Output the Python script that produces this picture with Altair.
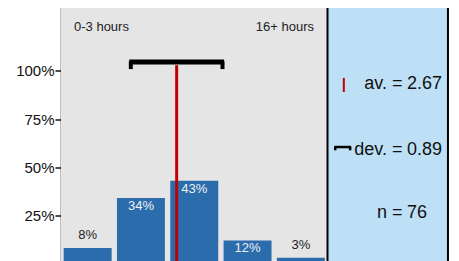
import altair as alt
import pandas as pd

# ---- data ----
categories = [1, 2, 3, 4, 5]
shares = [0.08, 0.34, 0.43, 0.12, 0.03]
labels = ["8%", "34%", "43%", "12%", "3%"]
mean_val = 2.67
sd_val = 0.89
n_val = 76
y_ticks = [0.25, 0.5, 0.75, 1.0]
end_labels = ["0-3 hours", "16+ hours"]

X_DOM = [0.5, 7.817]
Y_DOM = [0.0, 1.335]
RIGHT_EDGE = 7.76
BAR_COLOR = "#2b6cad"
GRAY = "#e5e5e5"
BLUE = "#bde0f6"
RED = "#c00000"

bars_df = pd.DataFrame({"cat": categories, "share": shares, "label": labels})
bars_df["inside"] = bars_df["share"] >= 0.1

xs = alt.Scale(domain=X_DOM, nice=False, zero=False)
ys = alt.Scale(domain=Y_DOM, nice=False, zero=False)

# background panels
panels = pd.DataFrame({"x0": [X_DOM[0], 5.5], "x1": [5.5, RIGHT_EDGE],
                       "y0": [Y_DOM[0]] * 2, "y1": [Y_DOM[1]] * 2,
                       "col": [GRAY, BLUE]})
bg = alt.Chart(panels).mark_rect().encode(
    x=alt.X("x0:Q", scale=xs, axis=None),
    x2="x1:Q",
    y=alt.Y("y0:Q", scale=ys,
            axis=alt.Axis(values=y_ticks, format=".0%", grid=False, title=None,
                          labelFontSize=15, labelColor="#111", tickColor="#111",
                          tickSize=6, tickWidth=1.5, domain=True, domainColor="black",
                          domainWidth=1.5, labelPadding=1,
                          labelFont="Liberation Sans")),
    y2="y1:Q",
    color=alt.Color("col:N", scale=None),
)

dividers = alt.Chart(pd.DataFrame({"x": [5.5, RIGHT_EDGE]})).mark_rule(
    color="black", strokeWidth=2).encode(
    x=alt.X("x:Q", scale=xs), y=alt.value(0), y2=alt.value(400))

edge_df = pd.DataFrame({"x0": [X_DOM[0]], "x1": [RIGHT_EDGE], "y": [Y_DOM[1]]})
top_border = alt.Chart(edge_df).mark_rule(color="black", strokeWidth=1.5).encode(
    x=alt.X("x0:Q", scale=xs), x2="x1:Q", y=alt.Y("y:Q", scale=ys))

bars = alt.Chart(bars_df).transform_calculate(
    xa="datum.cat - 0.45", xb="datum.cat + 0.45"
).mark_rect(color=BAR_COLOR).encode(
    x=alt.X("xa:Q", scale=xs), x2="xb:Q",
    y=alt.Y("share:Q", scale=ys), y2=alt.datum(0),
)

lab_in = alt.Chart(bars_df).transform_filter("datum.inside").mark_text(
    baseline="top", dy=2, fontSize=13, color="#f0f0f0", font="Liberation Sans"
).encode(x=alt.X("cat:Q", scale=xs), y=alt.Y("share:Q", scale=ys), text="label:N")

lab_out = alt.Chart(bars_df).transform_filter("!datum.inside").mark_text(
    baseline="bottom", dy=-6, fontSize=13, color="#222", font="Liberation Sans"
).encode(x=alt.X("cat:Q", scale=xs), y=alt.Y("share:Q", scale=ys), text="label:N")

# mean line
mean_df = pd.DataFrame({"x": [mean_val], "y0": [0], "y1": [1.03]})
mean_rule = alt.Chart(mean_df).mark_rule(color=RED, strokeWidth=3).encode(
    x=alt.X("x:Q", scale=xs), y=alt.Y("y0:Q", scale=ys), y2="y1:Q")

# std bar
sd_df = pd.DataFrame({"x0": [mean_val - sd_val], "x1": [mean_val + sd_val], "y": [1.047]})
sd_rule = alt.Chart(sd_df).mark_rule(color="black", strokeWidth=5).encode(
    x=alt.X("x0:Q", scale=xs), x2="x1:Q", y=alt.Y("y:Q", scale=ys))
caps_df = pd.DataFrame({"x": [mean_val - sd_val + 0.03, mean_val + sd_val - 0.03],
                        "y0": [1.01, 1.01], "y1": [1.05, 1.05]})
sd_caps = alt.Chart(caps_df).mark_rule(color="black", strokeWidth=4).encode(
    x=alt.X("x:Q", scale=xs), y=alt.Y("y0:Q", scale=ys), y2="y1:Q")

# end labels
end_df = pd.DataFrame({"x": [0.744, 5.247], "y": [1.231, 1.231], "t": end_labels})
end_left = alt.Chart(end_df.iloc[[0]]).mark_text(align="left", fontSize=13, color="#222",
                                                  font="Liberation Sans").encode(
    x=alt.X("x:Q", scale=xs), y=alt.Y("y:Q", scale=ys), text="t:N")
end_right = alt.Chart(end_df.iloc[[1]]).mark_text(align="right", fontSize=13, color="#222",
                                                   font="Liberation Sans").encode(
    x=alt.X("x:Q", scale=xs), y=alt.Y("y:Q", scale=ys), text="t:N")

# stats panel
stat_y = [0.930, 0.592, 0.263]
stat_lbl = pd.DataFrame({"x": [6.907] * 3, "y": stat_y, "t": ["av. =", "dev. =", "n ="]})
stat_val = pd.DataFrame({"x": [6.992] * 3, "y": stat_y,
                         "t": [f"{mean_val:.2f}", f"{sd_val:.2f}", f"{n_val}"]})
s_lbl = alt.Chart(stat_lbl).mark_text(align="right", fontSize=18, color="#111",
                                      font="Liberation Sans").encode(
    x=alt.X("x:Q", scale=xs), y=alt.Y("y:Q", scale=ys), text="t:N")
s_val = alt.Chart(stat_val).mark_text(align="left", fontSize=18, color="#111",
                                      font="Liberation Sans").encode(
    x=alt.X("x:Q", scale=xs), y=alt.Y("y:Q", scale=ys), text="t:N")

# legend icons
red_tick = alt.Chart(pd.DataFrame({"x": [5.806], "y0": [0.891], "y1": [0.964]})).mark_rule(
    color=RED, strokeWidth=2).encode(x=alt.X("x:Q", scale=xs), y=alt.Y("y0:Q", scale=ys), y2="y1:Q")
dev_icon = alt.Chart(pd.DataFrame({"x0": [5.63], "x1": [5.94], "y": [0.605]})).mark_rule(
    color="black", strokeWidth=2.5).encode(x=alt.X("x0:Q", scale=xs), x2="x1:Q", y=alt.Y("y:Q", scale=ys))
dev_caps = alt.Chart(pd.DataFrame({"x": [5.645, 5.925], "y0": [0.588, 0.588],
                                   "y1": [0.608, 0.608]})).mark_rule(
    color="black", strokeWidth=2.5).encode(x=alt.X("x:Q", scale=xs), y=alt.Y("y0:Q", scale=ys), y2="y1:Q")

chart = alt.layer(
    bg, bars, lab_in, lab_out, mean_rule, sd_rule, sd_caps, end_left, end_right,
    dividers, top_border, s_lbl, s_val, red_tick, dev_icon, dev_caps
).properties(
    width=390, height=257,
    autosize=alt.AutoSizeParams(type="none"),
    padding={"left": 53, "top": -1.5, "right": 0, "bottom": 0},
).configure_view(stroke=None).configure(background="white")

chart.save("out.html", embed_options={"renderer": "svg", "actions": False})
